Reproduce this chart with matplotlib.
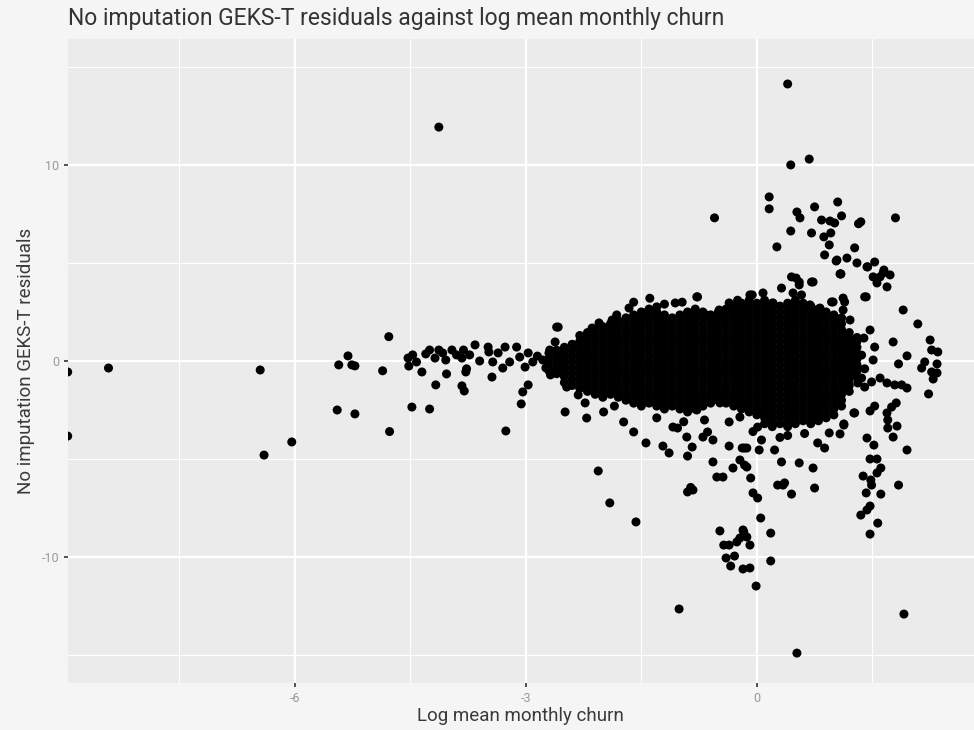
import numpy as np
import matplotlib.pyplot as plt

plt.rcParams['font.family'] = ['Roboto', 'DejaVu Sans']
plt.rcParams['axes.unicode_minus'] = False

# isolated points on the far left and the thin band leading into the cloud
left_pts = [
    (-8.95, -0.56), (-8.95, -3.83), (-8.42, -0.36), (-6.45, -0.46), (-6.40, -4.80),
    (-6.04, -4.13), (-4.13, 11.93), (-4.78, 1.24), (-5.45, -2.50), (-5.22, -2.70),
    (-4.77, -3.60), (-4.48, -2.35), (-4.25, -2.45), (-4.86, -0.50), (-4.17, -1.22),
    (-4.03, -0.66), (-3.83, -1.27), (-3.80, -1.53), (-3.78, -0.56), (-3.77, -0.40),
    (-4.35, -0.56), (-5.31, 0.26), (-5.43, -0.20), (-5.26, -0.20), (-5.22, -0.25),
    (-3.44, -0.82), (-3.26, -3.57), (-3.06, -2.19), (-3.04, -1.58), (-2.97, -1.22),
    (-4.53, 0.15), (-4.47, 0.31), (-4.52, -0.26), (-4.42, -0.05), (-4.30, 0.36),
    (-4.25, 0.56), (-4.18, 0.15), (-4.13, 0.56), (-4.08, 0.41), (-4.04, 0.05),
    (-3.96, 0.56), (-3.90, 0.31), (-3.83, 0.15), (-3.81, 0.56), (-3.73, 0.31),
    (-3.66, 0.82), (-3.60, 0.00), (-3.49, 0.71), (-3.48, 0.46), (-3.43, -0.05),
    (-3.36, 0.41), (-3.30, -0.36), (-3.27, 0.71), (-3.21, -0.05), (-3.12, 0.71),
    (-3.08, 0.20), (-3.01, -0.31), (-2.97, 0.41), (-2.91, -0.05), (-2.85, 0.25),
    (-2.78, 0.05), (-2.74, -0.35), (-2.69, 0.56), (-2.68, -0.71), (-2.62, 0.97),
    (-2.60, 1.73), (-2.56, -0.20),
]

# dense middle of the cloud, one column of residuals per churn value
core_cols = [
    (-2.7, [0.4, 0.1, -0.2, -0.5]),
    (-2.6, [0.55, 0.25, -0.05, -0.35, -0.65]),
    (-2.5, [0.7, 0.4, 0.1, -0.2, -0.5, -0.8, -1.1]),
    (-2.4, [0.85, 0.55, 0.25, -0.05, -0.35, -0.65, -0.95, -1.25]),
    (-2.3, [1.3, 1.0, 0.7, 0.4, 0.1, -0.2, -0.5, -0.8, -1.1, -1.4]),
    (-2.2, [1.45, 1.15, 0.85, 0.55, 0.25, -0.05, -0.35, -0.65, -0.95, -1.25, -1.55]),
    (-2.1, [1.6, 1.3, 1.0, 0.7, 0.4, 0.1, -0.2, -0.5, -0.8, -1.1, -1.4, -1.7]),
    (-2.0, [1.75, 1.45, 1.15, 0.85, 0.55, 0.25, -0.05, -0.35, -0.65, -0.95, -1.25, -1.55,
            -1.85]),
    (-1.9, [1.9, 1.6, 1.3, 1.0, 0.7, 0.4, 0.1, -0.2, -0.5, -0.8, -1.1, -1.4, -1.7]),
    (-1.8, [2.05, 1.75, 1.45, 1.15, 0.85, 0.55, 0.25, -0.05, -0.35, -0.65, -0.95, -1.25,
            -1.55, -1.85]),
    (-1.7, [2.2, 1.9, 1.6, 1.3, 1.0, 0.7, 0.4, 0.1, -0.2, -0.5, -0.8, -1.1, -1.4, -1.7,
            -2.0]),
    (-1.6, [2.35, 2.05, 1.75, 1.45, 1.15, 0.85, 0.55, 0.25, -0.05, -0.35, -0.65, -0.95,
            -1.25, -1.55, -1.85, -2.15]),
    (-1.5, [2.5, 2.2, 1.9, 1.6, 1.3, 1.0, 0.7, 0.4, 0.1, -0.2, -0.5, -0.8, -1.1, -1.4,
            -1.7, -2.0, -2.3]),
    (-1.4, [2.65, 2.35, 2.05, 1.75, 1.45, 1.15, 0.85, 0.55, 0.25, -0.05, -0.35, -0.65,
            -0.95, -1.25, -1.55, -1.85, -2.15]),
    (-1.3, [2.5, 2.2, 1.9, 1.6, 1.3, 1.0, 0.7, 0.4, 0.1, -0.2, -0.5, -0.8, -1.1, -1.4,
            -1.7, -2.0, -2.3]),
    (-1.2, [2.35, 2.05, 1.75, 1.45, 1.15, 0.85, 0.55, 0.25, -0.05, -0.35, -0.65, -0.95,
            -1.25, -1.55, -1.85, -2.15, -2.45]),
    (-1.1, [2.2, 1.9, 1.6, 1.3, 1.0, 0.7, 0.4, 0.1, -0.2, -0.5, -0.8, -1.1, -1.4, -1.7,
            -2.0, -2.3]),
    (-1.0, [2.35, 2.05, 1.75, 1.45, 1.15, 0.85, 0.55, 0.25, -0.05, -0.35, -0.65, -0.95,
            -1.25, -1.55, -1.85, -2.15, -2.45]),
    (-0.9, [2.5, 2.2, 1.9, 1.6, 1.3, 1.0, 0.7, 0.4, 0.1, -0.2, -0.5, -0.8, -1.1, -1.4,
            -1.7, -2.0, -2.3, -2.6]),
    (-0.8, [2.65, 2.35, 2.05, 1.75, 1.45, 1.15, 0.85, 0.55, 0.25, -0.05, -0.35, -0.65,
            -0.95, -1.25, -1.55, -1.85, -2.15, -2.45]),
    (-0.7, [2.5, 2.2, 1.9, 1.6, 1.3, 1.0, 0.7, 0.4, 0.1, -0.2, -0.5, -0.8, -1.1, -1.4,
            -1.7, -2.0, -2.3]),
    (-0.6, [2.35, 2.05, 1.75, 1.45, 1.15, 0.85, 0.55, 0.25, -0.05, -0.35, -0.65, -0.95,
            -1.25, -1.55, -1.85, -2.15]),
    (-0.5, [2.5, 2.2, 1.9, 1.6, 1.3, 1.0, 0.7, 0.4, 0.1, -0.2, -0.5, -0.8, -1.1, -1.4,
            -1.7, -2.0]),
    (-0.4, [2.65, 2.35, 2.05, 1.75, 1.45, 1.15, 0.85, 0.55, 0.25, -0.05, -0.35, -0.65,
            -0.95, -1.25, -1.55, -1.85, -2.15]),
    (-0.3, [2.8, 2.5, 2.2, 1.9, 1.6, 1.3, 1.0, 0.7, 0.4, 0.1, -0.2, -0.5, -0.8, -1.1,
            -1.4, -1.7, -2.0, -2.3]),
    (-0.2, [2.95, 2.65, 2.35, 2.05, 1.75, 1.45, 1.15, 0.85, 0.55, 0.25, -0.05, -0.35,
            -0.65, -0.95, -1.25, -1.55, -1.85, -2.15, -2.45]),
    (-0.1, [3.1, 2.8, 2.5, 2.2, 1.9, 1.6, 1.3, 1.0, 0.7, 0.4, 0.1, -0.2, -0.5, -0.8,
            -1.1, -1.4, -1.7, -2.0, -2.3, -2.6]),
    (0.0, [2.95, 2.65, 2.35, 2.05, 1.75, 1.45, 1.15, 0.85, 0.55, 0.25, -0.05, -0.35,
           -0.65, -0.95, -1.25, -1.55, -1.85, -2.15, -2.45, -2.75]),
    (0.1, [3.1, 2.8, 2.5, 2.2, 1.9, 1.6, 1.3, 1.0, 0.7, 0.4, 0.1, -0.2, -0.5, -0.8,
           -1.1, -1.4, -1.7, -2.0, -2.3, -2.6, -2.9, -3.2]),
    (0.2, [2.95, 2.65, 2.35, 2.05, 1.75, 1.45, 1.15, 0.85, 0.55, 0.25, -0.05, -0.35,
           -0.65, -0.95, -1.25, -1.55, -1.85, -2.15, -2.45, -2.75, -3.05, -3.35]),
    (0.3, [2.8, 2.5, 2.2, 1.9, 1.6, 1.3, 1.0, 0.7, 0.4, 0.1, -0.2, -0.5, -0.8, -1.1,
           -1.4, -1.7, -2.0, -2.3, -2.6, -2.9, -3.2]),
    (0.4, [2.95, 2.65, 2.35, 2.05, 1.75, 1.45, 1.15, 0.85, 0.55, 0.25, -0.05, -0.35,
           -0.65, -0.95, -1.25, -1.55, -1.85, -2.15, -2.45, -2.75, -3.05, -3.35]),
    (0.5, [3.1, 2.8, 2.5, 2.2, 1.9, 1.6, 1.3, 1.0, 0.7, 0.4, 0.1, -0.2, -0.5, -0.8,
           -1.1, -1.4, -1.7, -2.0, -2.3, -2.6, -2.9, -3.2]),
    (0.6, [2.95, 2.65, 2.35, 2.05, 1.75, 1.45, 1.15, 0.85, 0.55, 0.25, -0.05, -0.35,
           -0.65, -0.95, -1.25, -1.55, -1.85, -2.15, -2.45, -2.75, -3.05]),
    (0.7, [2.8, 2.5, 2.2, 1.9, 1.6, 1.3, 1.0, 0.7, 0.4, 0.1, -0.2, -0.5, -0.8, -1.1,
           -1.4, -1.7, -2.0, -2.3, -2.6, -2.9, -3.2]),
    (0.8, [2.65, 2.35, 2.05, 1.75, 1.45, 1.15, 0.85, 0.55, 0.25, -0.05, -0.35, -0.65,
           -0.95, -1.25, -1.55, -1.85, -2.15, -2.45, -2.75, -3.05]),
    (0.9, [2.5, 2.2, 1.9, 1.6, 1.3, 1.0, 0.7, 0.4, 0.1, -0.2, -0.5, -0.8, -1.1, -1.4,
           -1.7, -2.0, -2.3, -2.6, -2.9]),
    (1.0, [2.35, 2.05, 1.75, 1.45, 1.15, 0.85, 0.55, 0.25, -0.05, -0.35, -0.65, -0.95,
           -1.25, -1.55, -1.85, -2.15, -2.45, -2.75]),
    (1.1, [2.2, 1.9, 1.6, 1.3, 1.0, 0.7, 0.4, 0.1, -0.2, -0.5, -0.8, -1.1, -1.4, -1.7,
           -2.0, -2.3]),
    (1.2, [1.45, 1.15, 0.85, 0.55, 0.25, -0.05, -0.35, -0.65, -0.95, -1.25, -1.55]),
    (1.3, [1.0, 0.7, 0.4, 0.1, -0.2, -0.5, -0.8]),
]

# ragged top edge of the cloud and the spray of large positive residuals
upper_pts = [
    (-2.58, 1.73), (-2.38, 0.82), (-2.14, 1.68), (-2.05, 1.94), (-1.88, 2.09),
    (-1.82, 2.35), (-1.66, 2.70), (-1.60, 3.00), (-1.39, 3.20), (-1.47, 2.45),
    (-1.30, 2.76), (-1.06, 2.96), (-0.97, 3.00), (-0.78, 3.27), (-0.66, 2.35),
    (-0.49, 2.60), (-0.36, 2.96), (-0.09, 3.37), (0.08, 3.47), (0.32, 3.72),
    (0.45, 4.29), (0.55, 4.03), (0.71, 4.03), (0.97, 3.01), (1.12, 3.21),
    (1.40, 3.27), (-0.77, 3.27), (-0.06, 3.37), (0.21, 2.96), (0.47, 3.47),
    (0.58, 3.37), (0.69, 2.86), (0.78, 2.60), (0.51, 4.23), (0.55, 3.88),
    (0.73, 4.03), (1.08, 4.44), (1.12, 2.60), (1.14, 3.01), (0.99, 3.01),
    (0.82, 2.70), (1.09, 4.44), (1.27, 5.77), (1.03, 5.10), (1.17, 5.25),
    (1.30, 5.00), (1.43, 4.80), (1.53, 5.05), (1.51, 4.29), (1.60, 4.29),
    (1.65, 4.64), (1.56, 3.98), (1.69, 3.78), (1.73, 4.39), (1.64, 4.49),
    (1.44, 4.80), (1.42, 3.27), (0.44, 6.63), (0.26, 5.82), (0.71, 6.53),
    (0.84, 7.19), (0.87, 6.33), (0.94, 5.92), (0.88, 5.41), (1.04, 5.15),
    (1.09, 4.44), (1.05, 8.11), (0.75, 7.86), (0.52, 7.60), (0.56, 7.30),
    (0.95, 7.14), (1.01, 7.04), (1.10, 7.40), (1.32, 7.00), (1.35, 7.10),
    (0.96, 6.53), (1.80, 7.30), (0.16, 7.76), (0.16, 8.37), (-0.55, 7.30),
    (0.44, 10.00), (0.68, 10.30), (0.40, 14.13), (1.21, 2.09), (1.30, 1.20),
    (1.30, -0.30), (1.22, -0.56), (1.27, 0.45), (-0.25, 3.10), (-1.20, 2.90),
]

# lower edge of the cloud and the negative residual tails
lower_pts = [
    (-2.49, -2.60), (-2.47, -1.33), (-2.32, -1.73), (-2.23, -2.14), (-2.21, -2.91),
    (-1.99, -2.60), (-2.06, -5.61), (-1.91, -7.24), (-1.73, -3.11), (-1.60, -3.62),
    (-1.57, -8.21), (-1.44, -4.18), (-1.22, -4.34), (-1.14, -4.69), (-1.09, -3.37),
    (-1.03, -3.42), (-0.91, -3.88), (-0.90, -4.85), (-0.90, -6.68), (-0.83, -6.58),
    (-0.86, -6.45), (-0.84, -4.39), (-0.78, -2.50), (-0.70, -3.88), (-0.68, -3.01),
    (-0.64, -3.62), (-0.57, -4.03), (-0.57, -5.15), (-0.52, -5.92), (-0.44, -5.92),
    (-0.48, -2.14), (-0.48, -8.67), (-0.43, -9.39), (-0.36, -9.39), (-0.40, -10.05),
    (-0.29, -9.95), (-0.34, -10.46), (-0.18, -10.61), (-0.09, -10.56), (-0.17, -8.72),
    (-0.13, -8.98), (-0.09, -9.39), (-0.22, -9.03), (-0.26, -9.23), (-0.01, -11.48),
    (0.05, -8.01), (0.18, -8.78), (0.18, -10.20), (-0.36, -3.11), (-0.36, -4.34),
    (-0.31, -5.46), (-0.22, -2.86), (-0.22, -5.05), (-0.19, -4.44), (-0.13, -4.44),
    (-0.13, -5.41), (-0.08, -5.97), (-0.05, -6.73), (0.01, -6.99), (0.03, -4.54),
    (0.01, -3.37), (0.06, -4.03), (0.27, -6.33), (0.32, -5.15), (0.34, -6.33),
    (0.36, -6.22), (0.45, -6.79), (0.55, -5.20), (0.73, -5.46), (0.75, -6.48),
    (0.79, -4.18), (0.88, -4.44), (0.94, -3.67), (1.08, -3.72), (1.13, -3.27),
    (1.26, -2.65), (0.23, -4.54), (-0.16, -5.31), (-0.16, -4.44), (-0.18, -8.62),
    (0.52, -14.90), (-1.01, -12.65), (1.91, -12.91), (-0.05, -3.60), (0.40, -3.80),
    (0.62, -3.70), (0.30, -3.90), (-1.30, -2.90), (-1.85, -2.30), (-0.95, -3.10),
]

# right-hand group beyond the main cloud
right_pts = [
    (1.43, -3.93), (1.52, -4.29), (1.47, -5.00), (1.56, -5.00), (1.61, -5.46),
    (1.56, -5.71), (1.38, -5.87), (1.48, -6.07), (1.49, -6.33), (1.42, -6.73),
    (1.61, -6.79), (1.47, -7.40), (1.43, -7.60), (1.35, -7.86), (1.57, -8.27),
    (1.47, -8.83), (1.95, -4.54), (1.84, -6.33), (1.27, -2.65), (1.47, -2.55),
    (1.53, -2.30), (1.69, -2.65), (1.75, -2.35), (1.81, -2.14), (1.70, -3.01),
    (1.82, -3.32), (1.70, -3.42), (1.77, -3.88), (1.13, -3.21), (1.31, -1.12),
    (1.40, -1.33), (1.49, -1.07), (1.60, -0.87), (1.69, -1.12), (1.79, -1.22),
    (1.88, -1.22), (1.95, -1.38), (1.36, -0.87), (1.90, 2.60), (2.09, 1.89),
    (1.77, 0.97), (1.95, 0.26), (1.84, -0.15), (2.25, 1.07), (2.27, 0.56),
    (2.35, 0.46), (2.34, -0.15), (2.18, -0.05), (2.14, -0.36), (2.27, -0.56),
    (2.34, -0.61), (2.29, -0.92), (2.23, -1.68), (1.53, 0.71), (1.51, 0.05),
    (1.47, 1.58), (1.39, 1.17), (1.36, 0.30), (1.40, -0.40),
]

pts = left_pts + upper_pts + lower_pts + right_pts
for cx, ys in core_cols:
    pts += [(cx, cy) for cy in ys]
churn = np.array([p[0] for p in pts])
resid = np.array([p[1] for p in pts])

fig = plt.figure(figsize=(9.74, 7.30), dpi=100, facecolor='#f5f5f5')
ax = fig.add_axes([0.0695, 0.064, 0.9305, 0.8822])
ax.set_facecolor('#ebebeb')

ax.scatter(churn, resid, s=42, color='black', edgecolors='none', zorder=3)

ax.set_xlim(-8.95, 2.82)
ax.set_ylim(-16.44, 16.41)
ax.set_xticks([-6, -3, 0])
ax.set_yticks([-10, 0, 10])
ax.set_xticks([-7.5, -4.5, -1.5, 1.5], minor=True)
ax.set_yticks([-15, -5, 5, 15], minor=True)
ax.grid(which='major', color='white', linewidth=1.6, zorder=0)
ax.grid(which='minor', color='white', linewidth=0.8, zorder=0)
ax.set_axisbelow(True)
for s in ax.spines.values():
    s.set_visible(False)
ax.tick_params(which='major', length=3, width=1.2, color='#333333',
               labelcolor='#999999', labelsize=9, pad=3)
ax.tick_params(which='minor', length=0)

ax.set_xlabel('Log mean monthly churn', fontsize=13.5, color='#3a3a3a', labelpad=2)
ax.set_ylabel('No imputation GEKS-T residuals', fontsize=13.5, color='#3a3a3a',
              labelpad=5)
fig.text(0.0695, 0.9655, 'No imputation GEKS-T residuals against log mean monthly churn',
         fontsize=16.5, color='#333333', ha='left', va='baseline')

fig.savefig('out.png', dpi=100, facecolor=fig.get_facecolor())
